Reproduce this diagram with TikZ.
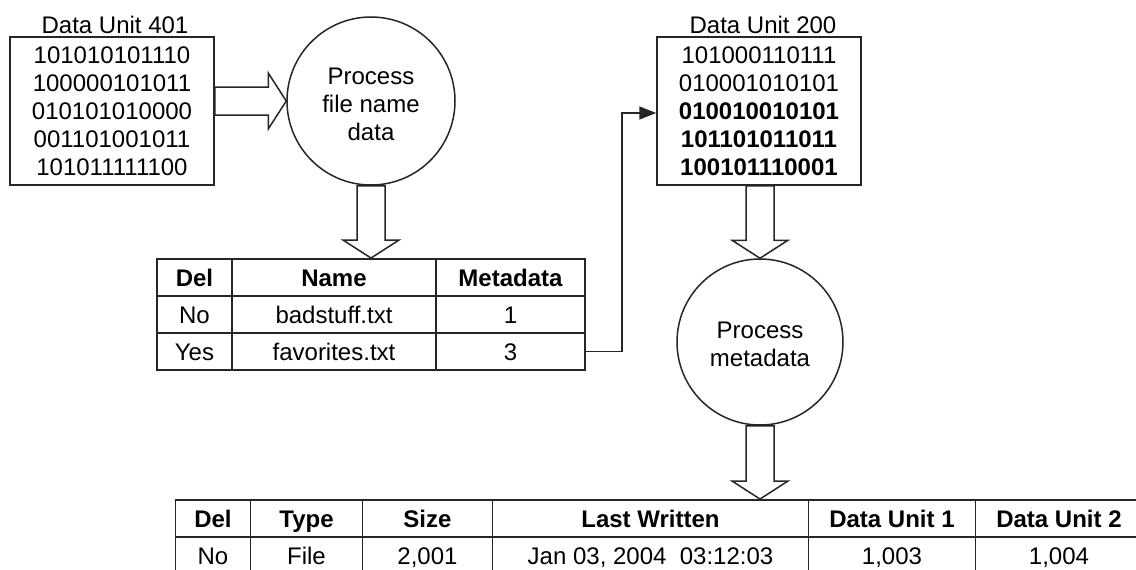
\documentclass[tikz,border=0pt]{standalone}
\usepackage{fontspec}
\setmainfont{Liberation Sans}
\usetikzlibrary{matrix,arrows.meta,calc}

\newcommand{\dtext}{\fontsize{24}{28}\selectfont}

% hollow block arrow pointing right, from #1 to #2 (same height)
\newcommand{\fatright}[2]{%
  \draw[fat] let \p1=(#1), \p2=(#2) in
    (\x1,{\y1+14pt}) -- ({\x2-18pt},{\y1+14pt}) -- ({\x2-18pt},{\y1+28pt})
    -- (\x2,\y1) -- ({\x2-18pt},{\y1-28pt}) -- ({\x2-18pt},{\y1-14pt})
    -- (\x1,{\y1-14pt}) -- cycle;}
% hollow block arrow pointing down, from #1 to #2 (same x)
\newcommand{\fatdown}[2]{%
  \draw[fat] let \p1=(#1), \p2=(#2) in
    ({\x1-14pt},\y1) -- ({\x1-14pt},{\y2+18pt}) -- ({\x1-28pt},{\y2+18pt})
    -- (\x1,\y2) -- ({\x1+28pt},{\y2+18pt}) -- ({\x1+14pt},{\y2+18pt})
    -- ({\x1+14pt},\y1) -- cycle;}

\tikzset{
  ln/.style={draw=black!85, line width=1.5pt},
  unitbox/.style={ln, rectangle, minimum width=204pt, minimum height=148pt,
    inner sep=0pt, align=center, font=\dtext},
  caption/.style={font=\dtext, inner sep=0pt},
  proc/.style={ln, circle, inner sep=0pt, align=center, font=\dtext},
  fat/.style={ln, fill=white, line join=miter},
  conn/.style={ln, -{Triangle[length=17pt,width=13pt]}},
  cell/.style={ln, rectangle, minimum height=37pt, inner sep=0pt,
    text height=17pt, text depth=0pt, anchor=center, font=\dtext},
  tbl/.style={matrix of nodes, inner sep=0pt, column sep=-1.5pt,
    row sep=-1.5pt, nodes={cell}, row 1/.style={nodes={font=\dtext\bfseries}}},
}

\begin{document}
\begin{tikzpicture}[x=1pt,y=-1pt]
\useasboundingbox (0,0) rectangle (1136,570);
\fill[white] (0,0) rectangle (1136,570);
\clip (0,0) rectangle (1136,570);

% data units
\node[unitbox] (du401) at (112,111)
  {101010101110\\100000101011\\010101010000\\001101001011\\101011111100};
\node[caption] (cap401) at (115,25) {Data Unit 401};
\node[unitbox] (du200) at (759,111)
  {101000110111\\010001010101\\\textbf{010010010101}\\\textbf{101101011011}\\\textbf{100101110001}};
\node[caption] (cap200) at (763,25) {Data Unit 200};

% processing steps
\node[proc, minimum size=168pt] (p1) at (371,101) {};
\node[font=\dtext, align=center, inner sep=0pt] (p1txt) at (371,104) {Process\\file name\\data};
\node[proc, minimum size=166pt] (p2) at (760,342) {};
\node[font=\dtext, align=center, inner sep=0pt] (p2txt) at (760,344) {Process\\metadata};

% file name table
\matrix (t1) [tbl,
  column 1/.style={nodes={minimum width=75pt}},
  column 2/.style={nodes={minimum width=204pt}},
  column 3/.style={nodes={minimum width=149pt}}] at (371,314.5) {
  Del & Name & Metadata \\
  No & badstuff.txt & 1 \\
  Yes & favorites.txt & 3 \\
};

% metadata table
\matrix (t2) [tbl,
  column 1/.style={nodes={minimum width=75pt}},
  column 2/.style={nodes={minimum width=112pt}},
  column 3/.style={nodes={minimum width=130pt}},
  column 4/.style={nodes={minimum width=316pt}},
  column 5/.style={nodes={minimum width=167pt}},
  column 6/.style={nodes={minimum width=167pt}}] at (659,537) {
  Del & Type & Size & Last Written & Data Unit 1 & Data Unit 2 \\
  No & File & 2,001 & Jan 03, 2004\ \ 03:12:03 & 1,003 & 1,004 \\
};

% flow
\fatright{du401.east |- p1.center}{p1.west}
\fatdown{p1.south}{p1.south |- t1.north}
\fatdown{p2.north |- du200.south}{p2.north}
\fatdown{p2.south}{p2.south |- t2.north}
\draw[conn] (t1-3-3.east) -- ++(36,0) |- ([yshift=-2pt]du200.west);
\end{tikzpicture}
\end{document}
